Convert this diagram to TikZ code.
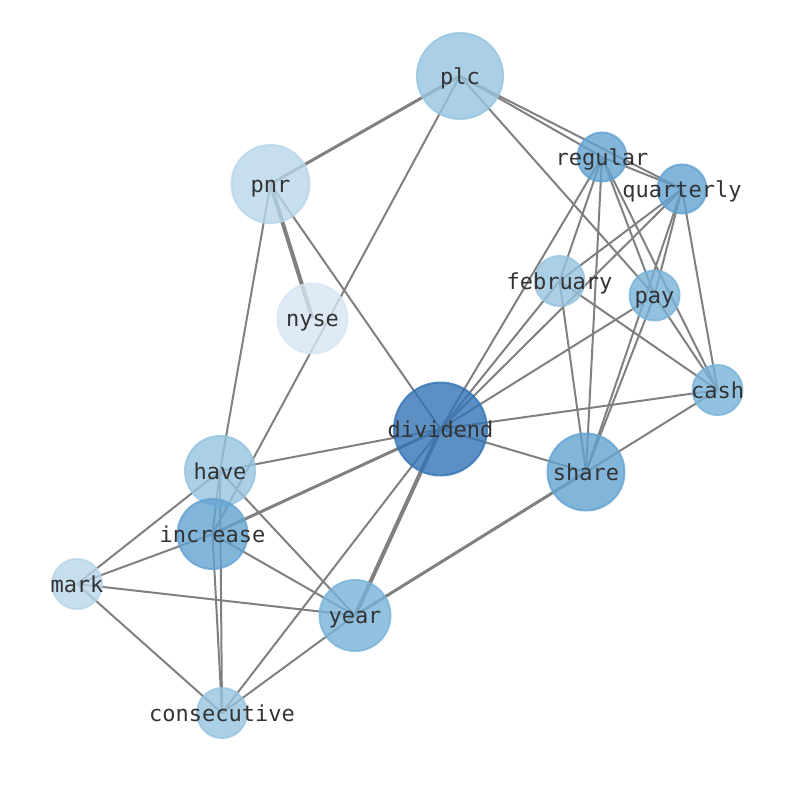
\documentclass[tikz,border=0pt]{standalone}
\usepackage{fontspec}
\newfontfamily\lblfont{DejaVu Sans Mono}
\pgfdeclarelayer{bg}
\pgfsetlayers{bg,main}
\definecolor{cA}{RGB}{51,116,181}
\definecolor{cB}{RGB}{99,162,209}
\definecolor{cC}{RGB}{120,179,216}
\definecolor{cD}{RGB}{150,196,224}
\definecolor{cE}{RGB}{184,214,234}
\definecolor{cF}{RGB}{214,229,244}
\definecolor{edgegray}{RGB}{128,128,128}
\definecolor{lbl}{RGB}{51,51,51}
\tikzset{
  vtx/.style={circle, inner sep=0pt, line width=2pt, fill=#1, draw=#1,
    fill opacity=0.8, draw opacity=0.8},
  lbltext/.style={inner sep=0pt, text height=16.7pt, text depth=0pt, text=lbl,
    font=\lblfont\fontsize{22}{24}\selectfont},
  edg/.style={draw=edgegray, line width=2pt},
  thk/.style={draw=edgegray, line width=3pt},
  xthk/.style={draw=edgegray, line width=4pt},
}
\begin{document}
\begin{tikzpicture}[x=1pt,y=-1pt]
\useasboundingbox (0,0) rectangle (794,790);
\node[vtx=cD, minimum size=86pt] (plc) at (460,76) {};
\node[vtx=cE, minimum size=78pt] (pnr) at (270.5,184) {};
\node[vtx=cF, minimum size=70pt] (nyse) at (312.5,318.5) {};
\node[vtx=cB, minimum size=49pt] (regular) at (602,157) {};
\node[vtx=cB, minimum size=49pt] (quarterly) at (682,189) {};
\node[vtx=cD, minimum size=50pt] (february) at (559.5,281) {};
\node[vtx=cC, minimum size=50pt] (pay) at (654.5,295.5) {};
\node[vtx=cC, minimum size=50pt] (cash) at (717.5,390) {};
\node[vtx=cA, minimum size=93pt] (dividend) at (440.5,429) {};
\node[vtx=cB, minimum size=77pt] (share) at (586,472) {};
\node[vtx=cD, minimum size=70pt] (have) at (220,471) {};
\node[vtx=cB, minimum size=70pt] (increase) at (212.5,534) {};
\node[vtx=cE, minimum size=50pt] (mark) at (77,584) {};
\node[vtx=cC, minimum size=71pt] (year) at (355,615.5) {};
\node[vtx=cD, minimum size=50pt] (consecutive) at (222,713) {};
\node[lbltext] (plc-l) at (plc.center) {plc};
\node[lbltext] (pnr-l) at (pnr.center) {pnr};
\node[lbltext] (nyse-l) at (nyse.center) {nyse};
\node[lbltext] (regular-l) at (regular.center) {regular};
\node[lbltext] (quarterly-l) at (quarterly.center) {quarterly};
\node[lbltext] (february-l) at (february.center) {february};
\node[lbltext] (pay-l) at (pay.center) {pay};
\node[lbltext] (cash-l) at (cash.center) {cash};
\node[lbltext] (dividend-l) at (dividend.center) {dividend};
\node[lbltext] (share-l) at (share.center) {share};
\node[lbltext] (have-l) at (have.center) {have};
\node[lbltext] (increase-l) at (increase.center) {increase};
\node[lbltext] (mark-l) at (mark.center) {mark};
\node[lbltext] (year-l) at (year.center) {year};
\node[lbltext] (consecutive-l) at (consecutive.center) {consecutive};
\begin{pgfonlayer}{bg}
\draw[thk] (plc.center) -- (pnr.center);
\draw[edg] (plc.center) -- (increase.center);
\draw[edg] (plc.center) -- (regular.center);
\draw[edg] (plc.center) -- (quarterly.center);
\draw[edg] (plc.center) -- (pay.center);
\draw[xthk] (pnr.center) -- (nyse.center);
\draw[edg] (pnr.center) -- (have.center);
\draw[edg] (pnr.center) -- (dividend.center);
\draw[edg] (regular.center) -- (quarterly.center);
\draw[edg] (regular.center) -- (february.center);
\draw[edg] (regular.center) -- (dividend.center);
\draw[edg] (regular.center) -- (share.center);
\draw[edg] (regular.center) -- (pay.center);
\draw[edg] (regular.center) -- (cash.center);
\draw[edg] (quarterly.center) -- (february.center);
\draw[edg] (quarterly.center) -- (dividend.center);
\draw[edg] (quarterly.center) -- (pay.center);
\draw[edg] (quarterly.center) -- (share.center);
\draw[edg] (quarterly.center) -- (cash.center);
\draw[edg] (february.center) -- (dividend.center);
\draw[edg] (february.center) -- (share.center);
\draw[edg] (february.center) -- (cash.center);
\draw[edg] (pay.center) -- (dividend.center);
\draw[edg] (pay.center) -- (share.center);
\draw[edg] (pay.center) -- (cash.center);
\draw[edg] (cash.center) -- (dividend.center);
\draw[edg] (cash.center) -- (share.center);
\draw[edg] (dividend.center) -- (share.center);
\draw[edg] (dividend.center) -- (have.center);
\draw[thk] (dividend.center) -- (increase.center);
\draw[xthk] (dividend.center) -- (year.center);
\draw[edg] (dividend.center) -- (consecutive.center);
\draw[thk] (share.center) -- (year.center);
\draw[edg] (have.center) -- (mark.center);
\draw[edg] (have.center) -- (year.center);
\draw[edg] (have.center) -- (consecutive.center);
\draw[edg] (have.center) -- (increase.center);
\draw[edg] (increase.center) -- (mark.center);
\draw[edg] (increase.center) -- (year.center);
\draw[edg] (increase.center) -- (consecutive.center);
\draw[edg] (mark.center) -- (year.center);
\draw[edg] (mark.center) -- (consecutive.center);
\draw[edg] (year.center) -- (consecutive.center);
\end{pgfonlayer}
\end{tikzpicture}
\end{document}
